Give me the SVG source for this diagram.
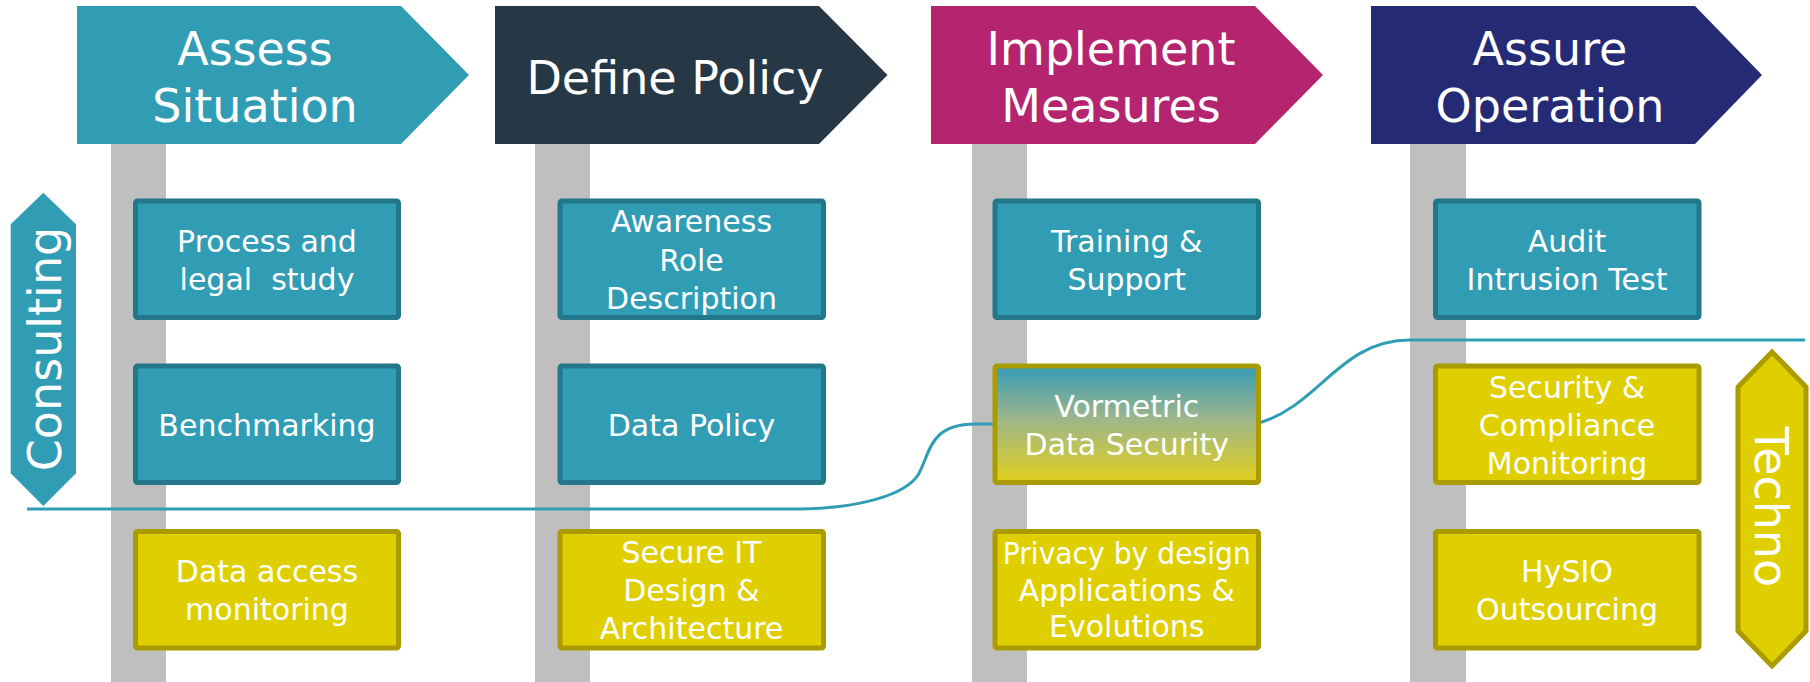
<svg xmlns="http://www.w3.org/2000/svg" width="1810" height="682" viewBox="0 0 1810 682">
  <defs>
    <linearGradient id="vormGrad" x1="0" y1="0" x2="0" y2="1">
      <stop offset="0" stop-color="#369BB6"/>
      <stop offset="0.45" stop-color="#9DB68C"/>
      <stop offset="1" stop-color="#E3CF1C"/>
    </linearGradient>
    <style>
      .pole { fill: #BFBFBF; }
      .hdr { font-family: "DejaVu Sans", "Noto Sans", sans-serif; font-size: 46px; fill: #FFFFFF; text-anchor: middle; }
      .box-teal { fill: #319DB5; stroke: #23778A; stroke-width: 5; }
      .box-yel { fill: #E0CF00; stroke: #A99B00; stroke-width: 5; }
      .box-grad { fill: url(#vormGrad); stroke: #A99B00; stroke-width: 5; }
      .lbl { font-family: "DejaVu Sans", "Noto Sans", sans-serif; font-size: 30px; fill: #FFFFFF; text-anchor: middle; }
      .side { font-family: "DejaVu Sans", "Noto Sans", sans-serif; font-size: 46px; fill: #FFFFFF; text-anchor: middle; }
      .conn { fill: none; stroke: #2F9DB5; stroke-width: 3; }
    </style>
  </defs>
  <rect width="1810" height="682" fill="#FFFFFF"/>

  <g id="poles">
    <rect class="pole" x="111" y="140" width="55" height="542"/>
    <rect class="pole" x="535" y="140" width="55" height="542"/>
    <rect class="pole" x="972" y="140" width="55" height="542"/>
    <rect class="pole" x="1410" y="140" width="56" height="542"/>
  </g>

  <g id="hdr-assess">
    <polygon points="77,6 401,6 469,75 401,144 77,144" fill="#319DB5"/>
    <text class="hdr" x="255" y="65">Assess</text>
    <text class="hdr" x="255" y="121.5">Situation</text>
  </g>
  <g id="hdr-define">
    <polygon points="495,6 819,6 887.5,75 819,144 495,144" fill="#263746"/>
    <text class="hdr" x="675" y="93.5">Define Policy</text>
  </g>
  <g id="hdr-implement">
    <polygon points="931,6 1255,6 1323,75 1255,144 931,144" fill="#B5256F"/>
    <text class="hdr" x="1111" y="65">Implement</text>
    <text class="hdr" x="1111" y="121.5">Measures</text>
  </g>
  <g id="hdr-assure">
    <polygon points="1371,6 1695,6 1762,75 1695,144 1371,144" fill="#252A74"/>
    <text class="hdr" x="1550" y="65">Assure</text>
    <text class="hdr" x="1550" y="121.5">Operation</text>
  </g>

  <g id="consulting">
    <polygon points="43.3,192.7 76,224.3 76,473.3 43.3,506 10.7,473.3 10.7,224.3" fill="#319DB5"/>
    <text class="side" transform="translate(61,349) rotate(-90)" x="0" y="0" font-size="45">Consulting</text>
  </g>

  <g id="techno">
    <polygon points="1772,352 1806,387 1806,631 1772,666 1738,631 1738,387" fill="#E0CF00" stroke="#A99B00" stroke-width="5"/>
    <text class="side" transform="translate(1755,507) rotate(90)" x="0" y="0">Techno</text>
  </g>

  <g id="connectors">
    <path class="conn" d="M27,509 L800,509 C860,508 905,495 918,475 C930,455 928,424 975,424 L995,424"/>
    <path class="conn" d="M1259,423 C1320,405 1340,340 1410,340 L1805,340"/>
  </g>

  <!-- Column 1 -->
  <g id="n-process">
    <rect class="box-teal" x="135.5" y="201" width="263" height="116.5" rx="2"/>
    <text class="lbl" x="267" y="251.5">Process and</text>
    <text class="lbl" x="267" y="289.5" xml:space="preserve">legal  study</text>
  </g>
  <g id="n-benchmarking">
    <rect class="box-teal" x="135.5" y="366" width="263" height="116.5" rx="2"/>
    <text class="lbl" x="267" y="435.5">Benchmarking</text>
  </g>
  <g id="n-dataaccess">
    <rect class="box-yel" x="135.5" y="531.5" width="263" height="116.5" rx="2"/>
    <text class="lbl" x="267" y="582">Data access</text>
    <text class="lbl" x="267" y="620">monitoring</text>
  </g>

  <!-- Column 2 -->
  <g id="n-awareness">
    <rect class="box-teal" x="560" y="201" width="263.5" height="116.5" rx="2"/>
    <text class="lbl" x="691.5" y="232">Awareness</text>
    <text class="lbl" x="691.5" y="270.5">Role</text>
    <text class="lbl" x="691.5" y="308.5">Description</text>
  </g>
  <g id="n-datapolicy">
    <rect class="box-teal" x="560" y="366" width="263.5" height="116.5" rx="2"/>
    <text class="lbl" x="691.5" y="435.5">Data Policy</text>
  </g>
  <g id="n-secureit">
    <rect class="box-yel" x="560" y="531.5" width="263.5" height="116.5" rx="2"/>
    <text class="lbl" x="691.5" y="563">Secure IT</text>
    <text class="lbl" x="691.5" y="601">Design &amp;</text>
    <text class="lbl" x="691.5" y="639">Architecture</text>
  </g>

  <!-- Column 3 -->
  <g id="n-training">
    <rect class="box-teal" x="995" y="201" width="263.5" height="116.5" rx="2"/>
    <text class="lbl" x="1126.75" y="251.5">Training &amp;</text>
    <text class="lbl" x="1126.75" y="289.5">Support</text>
  </g>
  <g id="n-vormetric">
    <rect class="box-grad" x="995" y="366" width="263.5" height="116.5" rx="2"/>
    <text class="lbl" x="1126.75" y="416.5">Vormetric</text>
    <text class="lbl" x="1126.75" y="455">Data Security</text>
  </g>
  <g id="n-privacy">
    <rect class="box-yel" x="995" y="531.5" width="263.5" height="116.5" rx="2"/>
    <text class="lbl" x="1126.75" y="564" textLength="248" lengthAdjust="spacingAndGlyphs">Privacy by design</text>
    <text class="lbl" x="1126.75" y="600.5">Applications &amp;</text>
    <text class="lbl" x="1126.75" y="637">Evolutions</text>
  </g>

  <!-- Column 4 -->
  <g id="n-audit">
    <rect class="box-teal" x="1435.5" y="201" width="263.5" height="116.5" rx="2"/>
    <text class="lbl" x="1567" y="251.5">Audit</text>
    <text class="lbl" x="1567" y="289.5">Intrusion Test</text>
  </g>
  <g id="n-security">
    <rect class="box-yel" x="1435.5" y="366" width="263.5" height="116.5" rx="2"/>
    <text class="lbl" x="1567" y="397.5">Security &amp;</text>
    <text class="lbl" x="1567" y="435.5">Compliance</text>
    <text class="lbl" x="1567" y="474">Monitoring</text>
  </g>
  <g id="n-hysio">
    <rect class="box-yel" x="1435.5" y="531.5" width="263.5" height="116.5" rx="2"/>
    <text class="lbl" x="1567" y="582">HySIO</text>
    <text class="lbl" x="1567" y="620">Outsourcing</text>
  </g>
</svg>
